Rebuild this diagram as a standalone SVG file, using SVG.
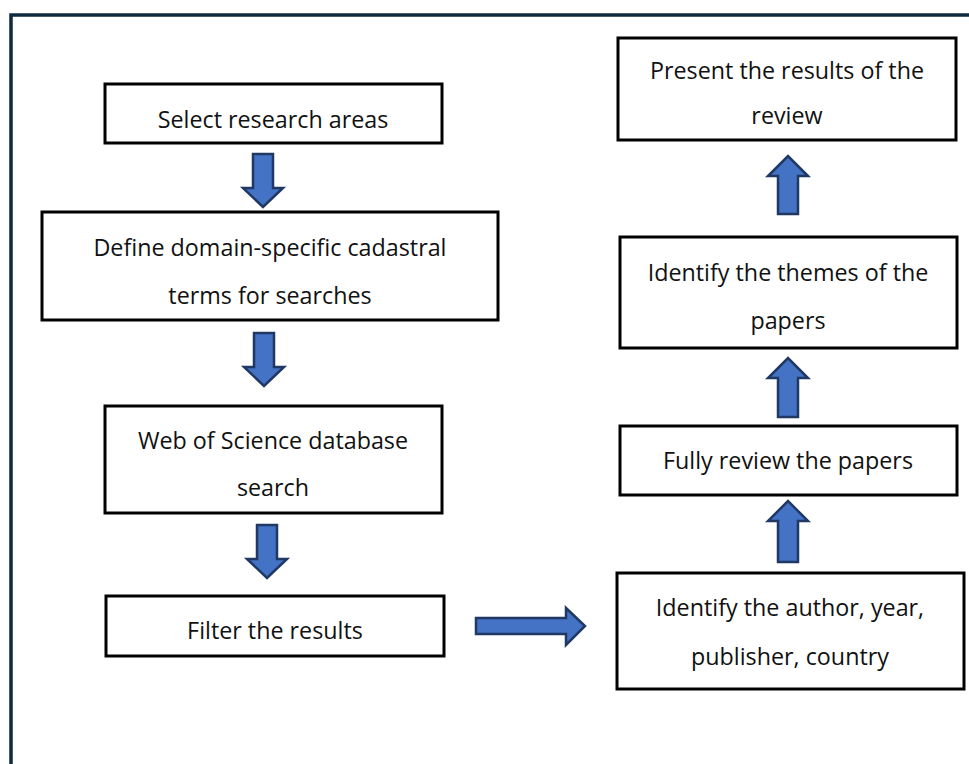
<svg xmlns="http://www.w3.org/2000/svg" width="969" height="764" viewBox="0 0 969 764">
<style>
.box{fill:#fff;stroke:#000;stroke-width:3}
.t{font-family:"Open Sans","Noto Sans",sans-serif;font-size:23.3px;fill:#111;text-anchor:middle}
.arr{fill:#4472c4;stroke:#1f3864;stroke-width:2.5;stroke-linejoin:miter}
</style>
<rect width="969" height="764" fill="#fff"/>
<path d="M11 764 V15 H969" fill="none" stroke="#0f2a3f" stroke-width="3.5"/>
<g id="n1"><rect class="box" x="105" y="84" width="337" height="59"/><text class="t" x="273" y="128">Select research areas</text></g>
<g id="n2"><rect class="box" x="42" y="212" width="456" height="108"/><text class="t" x="270" y="256">Define domain-specific cadastral</text><text class="t" x="270" y="304">terms for searches</text></g>
<g id="n3"><rect class="box" x="105" y="406" width="337" height="107"/><text class="t" x="273" y="449">Web of Science database</text><text class="t" x="273" y="496">search</text></g>
<g id="n4"><rect class="box" x="106" y="596" width="338" height="60"/><text class="t" x="275" y="639">Filter the results</text></g>
<g id="n5"><rect class="box" x="617" y="573" width="347" height="116"/><text class="t" x="790" y="616">Identify the author, year,</text><text class="t" x="790" y="665">publisher, country</text></g>
<g id="n6"><rect class="box" x="620" y="426" width="337" height="69"/><text class="t" x="788" y="469">Fully review the papers</text></g>
<g id="n7"><rect class="box" x="620" y="237" width="337" height="111"/><text class="t" x="788" y="281">Identify the themes of the</text><text class="t" x="788" y="329">papers</text></g>
<g id="n8"><rect class="box" x="618" y="38" width="338" height="102"/><text class="t" x="787" y="79">Present the results of the</text><text class="t" x="787" y="124">review</text></g>
<g id="connectors">
<path class="arr" d="M253 154 H273 V188 H283 L263 207 L243 188 H253 Z"/>
<path class="arr" d="M254 333 H274 V367 H284 L264 386 L244 367 H254 Z"/>
<path class="arr" d="M257 525 H277 V559 H287 L267 578 L247 559 H257 Z"/>
<path class="arr" d="M476 618 H566 V608 L585 626 L566 645 V634 H476 Z"/>
<path class="arr" d="M778 562 V521 H768 L788 501 L808 521 H798 V562 Z"/>
<path class="arr" d="M778 417 V378 H768 L788 358 L808 378 H798 V417 Z"/>
<path class="arr" d="M778 214 V176 H768 L788 156 L808 176 H798 V214 Z"/>
</g>
</svg>
